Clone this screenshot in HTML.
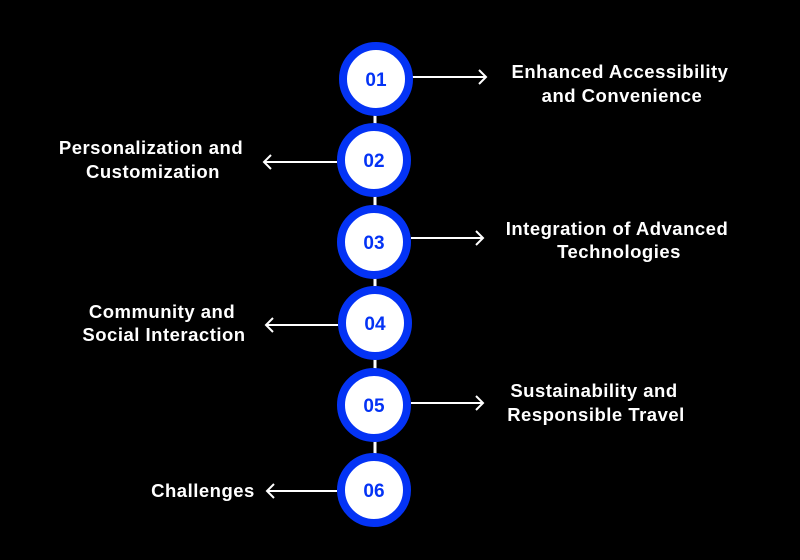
<!DOCTYPE html>
<html><head><style>
body{margin:0;background:#000;}
svg{display:block}
text{font-family:"Liberation Sans",sans-serif;font-weight:bold;}
.l{fill:#fff;font-size:18.5px;letter-spacing:0.5px;text-anchor:middle}
.n{fill:#0433f5;font-size:19px;text-anchor:middle}
</style></head><body>
<svg width="800" height="560" viewBox="0 0 800 560">
<line x1="375" y1="80" x2="375" y2="490" stroke="#fff" stroke-width="3"/>
<g stroke="#fff" stroke-width="2" fill="none">
<line x1="412" y1="77" x2="486" y2="77"/><polyline points="479,70 486,77 479,84"/>
<line x1="337" y1="162" x2="264" y2="162"/><polyline points="271,155 264,162 271,169"/>
<line x1="411" y1="238" x2="483" y2="238"/><polyline points="476,231 483,238 476,245"/>
<line x1="338" y1="325" x2="266" y2="325"/><polyline points="273,318 266,325 273,332"/>
<line x1="411" y1="403" x2="483" y2="403"/><polyline points="476,396 483,403 476,410"/>
<line x1="337" y1="491" x2="267" y2="491"/><polyline points="274,484 267,491 274,498"/>
</g>
<g fill="#fff" stroke="#0433f5" stroke-width="8">
<circle cx="376" cy="79" r="33"/>
<circle cx="374" cy="160" r="33"/>
<circle cx="374" cy="242" r="33"/>
<circle cx="375" cy="323" r="33"/>
<circle cx="374" cy="405" r="33"/>
<circle cx="374" cy="490" r="33"/>
</g>
<text class="n" x="376" y="86">01</text>
<text class="n" x="374" y="167">02</text>
<text class="n" x="374" y="249">03</text>
<text class="n" x="375" y="330">04</text>
<text class="n" x="374" y="412">05</text>
<text class="n" x="374" y="497">06</text>
<text class="l" x="620" y="78">Enhanced Accessibility</text>
<text class="l" x="622" y="102">and Convenience</text>
<text class="l" x="151" y="154">Personalization and</text>
<text class="l" x="153" y="178">Customization</text>
<text class="l" x="617" y="235">Integration of Advanced</text>
<text class="l" x="619" y="258">Technologies</text>
<text class="l" x="162" y="318">Community and</text>
<text class="l" x="164" y="341">Social Interaction</text>
<text class="l" x="594" y="397">Sustainability and</text>
<text class="l" x="596" y="421">Responsible Travel</text>
<text class="l" x="203" y="497">Challenges</text>
</svg>
</body></html>
